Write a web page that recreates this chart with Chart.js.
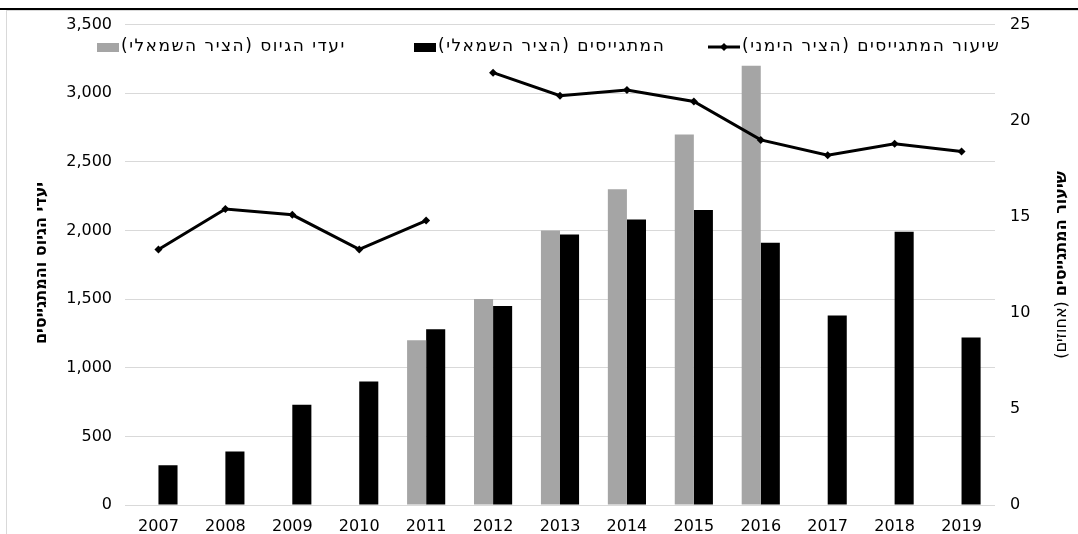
<!DOCTYPE html>
<html>
<head>
<meta charset="utf-8">
<script src="https://cdn.jsdelivr.net/npm/chart.js@4"></script>
<style>
html, body { margin: 0; padding: 0; background: #fff; }
#wrap { position: relative; width: 1078px; height: 534px; }
canvas { position: absolute; left: 0; top: 0; }
</style>
</head>
<body>
<div id="wrap"><canvas id="grafico" width="1078" height="534"></canvas></div>
<script>
const anos = ['2007', '2008', '2009', '2010', '2011', '2012', '2013', '2014', '2015', '2016', '2017', '2018', '2019'];
const yaadim = [null, null, null, null, 1200, 1500, 2000, 2300, 2700, 3200, null, null, null];
const mitgaysim = [290, 390, 730, 900, 1280, 1450, 1970, 2080, 2150, 1910, 1380, 1990, 1220];
const shiur = [13.3, 15.4, 15.1, 13.3, 14.8, 22.5, 21.3, 21.6, 21.0, 19.0, 18.2, 18.8, 18.4];

const nomes = ['יעדי הגיוס (הציר השמאלי)', 'המתגייסים (הציר השמאלי)', 'שיעור המתגייסים (הציר הימני)'];
const tituloEsq = 'יעדי הגיוס והמתגייסים';
const tituloDirBold = 'שיעור המתגייסים';
const tituloDirNormal = '(אחוזים)';

const fonte = '"DejaVu Sans", sans-serif';

// moldura, legenda e titulos dos eixos desenhados a mao
const extras = {
    id: 'extras',
    beforeDraw(chart) {
        const ctx = chart.ctx;
        ctx.save();
        ctx.fillStyle = '#fff';
        ctx.fillRect(0, 0, chart.width, chart.height);
        ctx.fillStyle = '#000';
        ctx.fillRect(0, 8, chart.width, 2);
        ctx.fillStyle = '#d9d9d9';
        ctx.fillRect(6, 10, chart.width - 6, 1);
        ctx.fillRect(6, 10, 1, chart.height - 10);
        ctx.restore();
    },
    afterDraw(chart) {
        const ctx = chart.ctx;
        ctx.save();
        ctx.direction = 'rtl';
        ctx.textBaseline = 'middle';
        ctx.font = '17px ' + fonte;
        ctx.letterSpacing = '1.5px';
        ctx.fillStyle = '#000';

        const ly = 47;
        const itens = [
            { x: 97, tipo: 'box', cor: '#a5a5a5', texto: nomes[0] },
            { x: 414, tipo: 'box', cor: '#000', texto: nomes[1] },
            { x: 708, tipo: 'linha', cor: '#000', texto: nomes[2] }
        ];
        itens.forEach(it => {
            let xt;
            if (it.tipo === 'box') {
                ctx.fillStyle = it.cor;
                ctx.fillRect(it.x, ly - 4, 22, 9);
                xt = it.x + 24;
            } else {
                ctx.strokeStyle = it.cor;
                ctx.lineWidth = 3;
                ctx.beginPath();
                ctx.moveTo(it.x, ly);
                ctx.lineTo(it.x + 32, ly);
                ctx.stroke();
                ctx.fillStyle = it.cor;
                ctx.beginPath();
                ctx.moveTo(it.x + 16, ly - 4);
                ctx.lineTo(it.x + 20, ly);
                ctx.lineTo(it.x + 16, ly + 4);
                ctx.lineTo(it.x + 12, ly);
                ctx.closePath();
                ctx.fill();
                xt = it.x + 34;
            }
            ctx.textAlign = 'left';
            ctx.fillStyle = '#000';
            ctx.fillText(it.texto, xt, ly);
        });
        ctx.letterSpacing = '0px';

        // titulo esquerdo
        ctx.fillStyle = '#000';
        ctx.save();
        ctx.translate(42, 263);
        ctx.rotate(-Math.PI / 2);
        ctx.font = 'bold 16px ' + fonte;
        ctx.textAlign = 'center';
        ctx.fillText(tituloEsq, 0, 0);
        ctx.restore();

        // titulo direito (parte em negrito + parte normal)
        ctx.save();
        ctx.translate(1062, 265);
        ctx.rotate(-Math.PI / 2);
        ctx.textAlign = 'left';
        ctx.font = '16px ' + fonte;
        const wN = ctx.measureText(tituloDirNormal).width;
        ctx.font = 'bold 16px ' + fonte;
        const wB = ctx.measureText(tituloDirBold).width;
        const gap = 5;
        const total = wN + gap + wB;
        ctx.font = '16px ' + fonte;
        ctx.fillText(tituloDirNormal, -total / 2, 0);
        ctx.font = 'bold 16px ' + fonte;
        ctx.fillText(tituloDirBold, -total / 2 + wN + gap, 0);
        ctx.restore();

        ctx.restore();
    }
};

const ctx = document.getElementById('grafico').getContext('2d');

new Chart(ctx, {
    type: 'bar',
    data: {
        labels: anos,
        datasets: [
            {
                type: 'line',
                label: nomes[2],
                data: shiur,
                yAxisID: 'y1',
                borderColor: '#000',
                backgroundColor: '#000',
                borderWidth: 3,
                pointStyle: 'rectRot',
                pointRadius: 4,
                pointBorderWidth: 0,
                tension: 0,
                order: 0,
                segment: {
                    borderColor: c => c.p0DataIndex === 4 ? 'rgba(0,0,0,0)' : '#000'
                }
            },
            {
                label: nomes[0],
                data: yaadim,
                backgroundColor: '#a5a5a5',
                yAxisID: 'y',
                order: 1,
                categoryPercentage: 0.57,
                barPercentage: 1
            },
            {
                label: nomes[1],
                data: mitgaysim,
                backgroundColor: '#000',
                yAxisID: 'y',
                order: 2,
                categoryPercentage: 0.57,
                barPercentage: 1
            }
        ]
    },
    options: {
        responsive: false,
        animation: false,
        layout: { padding: { top: 20, left: 0, right: 0, bottom: 0 } },
        plugins: {
            legend: { display: false },
            tooltip: { enabled: false }
        },
        scales: {
            x: {
                grid: { display: false },
                border: { display: false },
                ticks: { color: '#000', font: { family: fonte, size: 16 }, padding: 4, maxRotation: 0 },
                afterFit: s => { s.height = 29; }
            },
            y: {
                position: 'left',
                min: 0,
                max: 3500,
                grid: { color: '#d9d9d9', drawTicks: false },
                border: { display: false },
                ticks: {
                    stepSize: 500,
                    color: '#000',
                    padding: 13,
                    font: { family: fonte, size: 16 },
                    callback: v => v.toLocaleString('en-US')
                },
                afterFit: s => { s.width = 125; }
            },
            y1: {
                position: 'right',
                min: 0,
                max: 25,
                grid: { display: false, drawTicks: false },
                border: { display: false },
                ticks: {
                    stepSize: 5,
                    color: '#000',
                    padding: 15,
                    font: { family: fonte, size: 16 }
                },
                afterFit: s => { s.width = 83; }
            }
        }
    },
    plugins: [extras]
});
</script>
</body>
</html>
